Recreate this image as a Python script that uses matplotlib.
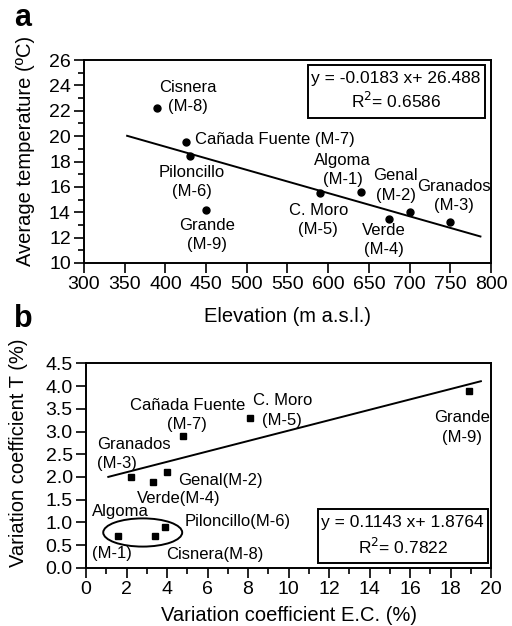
import numpy as np
import matplotlib
matplotlib.use("Agg")
import matplotlib.pyplot as plt
from matplotlib.patches import Ellipse, Rectangle
from matplotlib.ticker import MultipleLocator, FormatStrFormatter

plt.rcParams['font.family'] = ['Liberation Sans', 'DejaVu Sans']
plt.rcParams['font.size'] = 12

# panel a: elevation vs average temperature
elev = [390, 425, 430, 450, 590, 640, 675, 700, 750]
temp = [22.2, 19.5, 18.4, 14.2, 15.5, 15.6, 13.5, 14.0, 13.2]
a_labels = ["Cisnera\n(M-8)", "Cañada Fuente (M-7)", "Piloncillo\n(M-6)", "Grande\n(M-9)",
            "C. Moro\n(M-5)", "Algoma\n(M-1)", "Verde\n(M-4)", "Genal\n(M-2)", "Granados\n(M-3)"]
a_label_pos = [(428, 23.1, 'center'), (436, 19.7, 'left'), (433, 16.4, 'center'),
               (451, 12.2, 'center'), (588, 13.4, 'center'), (618, 17.3, 'center'),
               (668, 11.8, 'center'), (683, 16.1, 'center'), (754, 15.3, 'center')]
a_slope, a_icpt, a_r2 = -0.0183, 26.488, 0.6586
a_fit_x = [353, 787]

# panel b: variation coefficients
cv_ec = [1.6, 3.4, 3.9, 2.2, 3.3, 4.0, 4.8, 8.1, 18.9]
cv_t = [0.7, 0.7, 0.9, 2.0, 1.9, 2.1, 2.9, 3.3, 3.9]
b_labels = ["Algoma", "(M-1)", "Cisnera(M-8)", "Piloncillo(M-6)", "Granados\n(M-3)",
            "Verde(M-4)", "Genal(M-2)", "Cañada Fuente\n(M-7)", "C. Moro\n(M-5)", "Grande\n(M-9)"]
b_label_pos = [(0.28, 1.24, 'left'), (0.28, 0.31, 'left'), (3.98, 0.29, 'left'),
               (4.86, 1.02, 'left'), (0.53, 2.51, 'left'), (2.50, 1.53, 'left'),
               (4.53, 1.93, 'left'), (5.0, 3.37, 'center'), (9.7, 3.46, 'center'),
               (18.55, 3.09, 'center')]
b_slope, b_icpt, b_r2 = 0.1143, 1.8764, 0.7822
b_fit_x = [1.1, 19.5]

fig = plt.figure(figsize=(5.12, 6.26), dpi=100)
ax1 = fig.add_axes([0.164, 0.580, 0.795, 0.324])
ax2 = fig.add_axes([0.168, 0.0927, 0.791, 0.327])

for ax in (ax1, ax2):
    for s in ax.spines.values():
        s.set_linewidth(1.4)
    ax.tick_params(which='major', direction='out', length=7, width=1.2, labelsize=14, pad=2.5)
    ax.tick_params(which='minor', direction='out', length=4, width=1.2)

# --- a ---
ax1.plot(elev, temp, 'o', color='black', markersize=5)
fx = np.array(a_fit_x)
ax1.plot(fx, a_slope * fx + a_icpt, color='black', lw=1.4)
for txt, (x, y, ha) in zip(a_labels, a_label_pos):
    ax1.text(x, y, txt, ha=ha, va='center', fontsize=12, linespacing=1.35)
ax1.set_xlim(300, 800)
ax1.set_ylim(10, 26)
ax1.xaxis.set_major_locator(MultipleLocator(50))
ax1.yaxis.set_major_locator(MultipleLocator(2))
ax1.yaxis.set_minor_locator(MultipleLocator(1))
ax1.set_xlabel("Elevation (m a.s.l.)", fontsize=14.5, labelpad=10)
ax1.set_ylabel("Average temperature (ºC)", fontsize=14.5)
ax1.yaxis.set_label_coords(-0.12, 0.55)
ax1.add_patch(Rectangle((0.55, 0.714), 0.435, 0.261, transform=ax1.transAxes,
                        fill=False, lw=1.4, ec='black'))
ax1.text(0.767, 0.91, f"y = {a_slope} x+ {a_icpt}", transform=ax1.transAxes,
         ha='center', va='center', fontsize=12.5)
ax1.text(0.767, 0.80, f"R$^2$= {a_r2}", transform=ax1.transAxes,
         ha='center', va='center', fontsize=12.5)
fig.text(0.045, 0.972, "a", fontsize=22, fontweight='bold', ha='center', va='center')

# --- b ---
ax2.plot(cv_ec, cv_t, 's', color='black', markersize=5)
fx = np.array(b_fit_x)
ax2.plot(fx, b_slope * fx + b_icpt, color='black', lw=1.4)
for txt, (x, y, ha) in zip(b_labels, b_label_pos):
    ax2.text(x, y, txt, ha=ha, va='center', fontsize=12, linespacing=1.35)
ax2.add_patch(Ellipse((2.8, 0.78), 3.9, 0.62, fill=False, lw=1.4, ec='black'))
ax2.set_xlim(0, 20)
ax2.set_ylim(0, 4.5)
ax2.xaxis.set_major_locator(MultipleLocator(2))
ax2.xaxis.set_minor_locator(MultipleLocator(1))
ax2.yaxis.set_major_locator(MultipleLocator(0.5))
ax2.yaxis.set_major_formatter(FormatStrFormatter('%.1f'))
ax2.set_xlabel("Variation coefficient E.C. (%)", fontsize=14.5, labelpad=5.5)
ax2.set_ylabel("Variation coefficient T (%)", fontsize=14.5)
ax2.yaxis.set_label_coords(-0.143, 0.563)
ax2.add_patch(Rectangle((0.573, 0.024), 0.42, 0.264, transform=ax2.transAxes,
                        fill=False, lw=1.4, ec='black'))
ax2.text(0.782, 0.22, f"y = {b_slope} x+ {b_icpt}", transform=ax2.transAxes,
         ha='center', va='center', fontsize=12.5)
ax2.text(0.782, 0.104, f"R$^2$= {b_r2}", transform=ax2.transAxes,
         ha='center', va='center', fontsize=12.5)
fig.text(0.045, 0.49, "b", fontsize=22, fontweight='bold', ha='center', va='center')

fig.savefig("out.png", dpi=100)
